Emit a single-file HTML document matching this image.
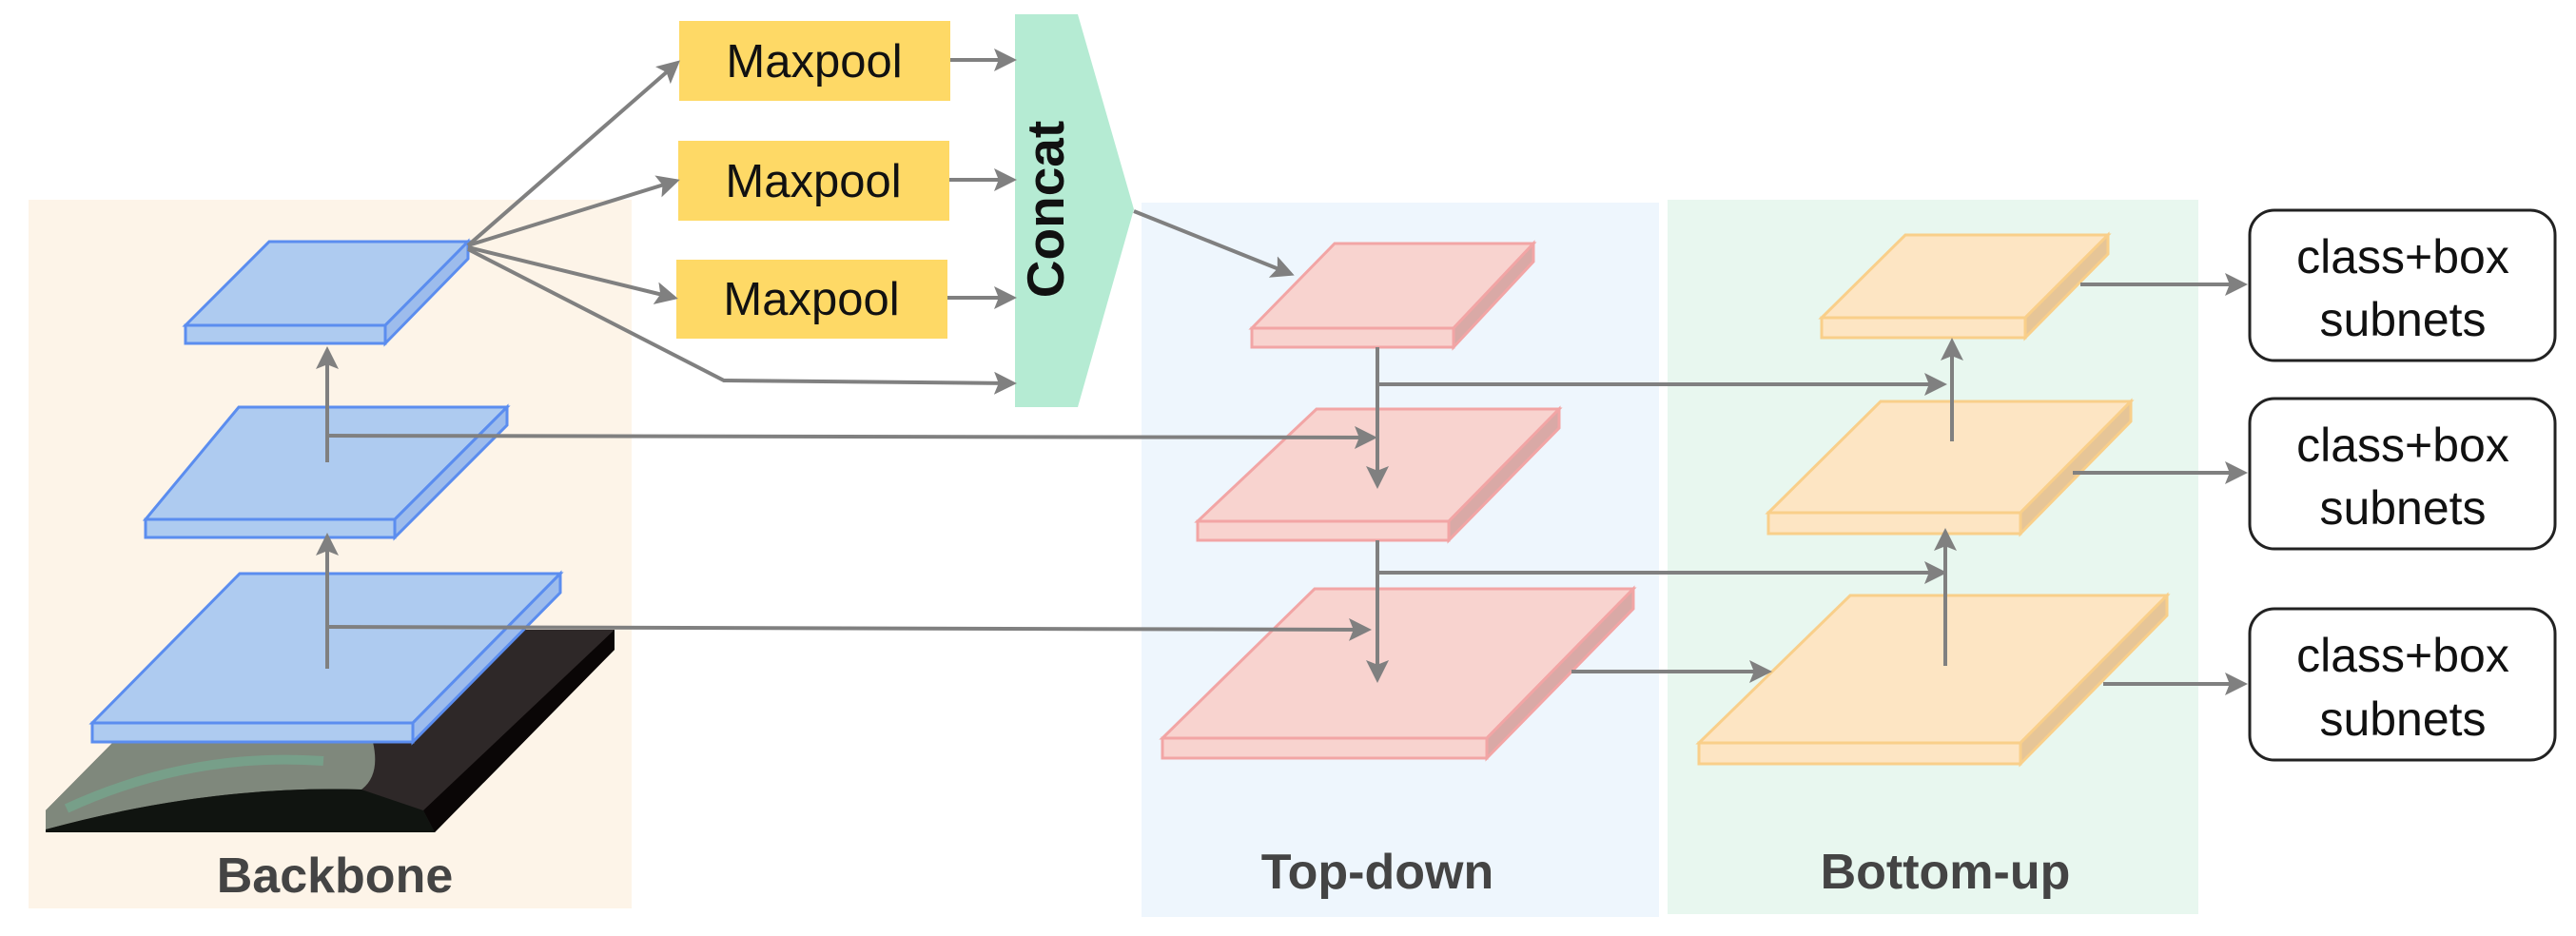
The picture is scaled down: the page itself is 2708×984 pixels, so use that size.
<!DOCTYPE html>
<html><head><meta charset="utf-8"><style>
html,body{margin:0;padding:0;background:#fff}
svg{display:block}
text{font-family:"Liberation Sans",Arial,sans-serif}
</style></head><body>
<svg width="2708" height="984" viewBox="0 0 2708 984" xmlns="http://www.w3.org/2000/svg">
<defs>
<marker id="ah" markerWidth="6" markerHeight="6" refX="5" refY="3" orient="auto" markerUnits="strokeWidth">
<path d="M0,0 L6,3 L0,6 L1.2,3 Z" fill="#808080"/></marker>
</defs>
<!-- backgrounds -->
<rect x="30" y="210" width="634" height="745" fill="#fdf4e8"/>
<rect x="1200" y="213" width="544" height="751" fill="#eef6fd"/>
<rect x="1753" y="210" width="558" height="751" fill="#e8f7ef"/>

<!-- satellite image -->
<polygon points="236,662 646,662 646,683 457,875 48,875 48,852" fill="#2e2828"/>
<polygon points="646,662 646,683 457,875 445,852" fill="#0a0606"/>
<path d="M48,852 L236,662 L430,662 Q380,720 392,780 Q400,815 380,830 Q220,825 48,872 Z" fill="#7f887c"/>
<path d="M70,850 Q200,790 340,800" stroke="#6fb596" stroke-width="10" fill="none" opacity="0.5"/>
<path d="M120,760 Q220,720 330,740" stroke="#6fb596" stroke-width="10" fill="none" opacity="0.4"/>
<path d="M48,872 Q220,825 380,830 L445,852 L457,875 L48,875 Z" fill="#101410"/>

<!-- blue layers -->
<g stroke="#5b8def" stroke-width="3" fill="#aecbf0">
<polygon points="252,603 589,603 434,760 97,760"/>
<rect x="97" y="760" width="337" height="20"/>
<polygon points="589,603 589,623 434,780 434,760" fill="#9dbcec"/>
<polygon points="251,428 533,428 415,546 153,546"/>
<rect x="153" y="546" width="262" height="19"/>
<polygon points="533,428 533,447 415,565 415,546" fill="#9dbcec"/>
<polygon points="283,254 492,254 405,342 195,342"/>
<rect x="195" y="342" width="210" height="19"/>
<polygon points="492,254 492,272 405,361 405,342" fill="#9dbcec"/>
</g>

<!-- pink layers -->
<g stroke="#f2a5a5" stroke-width="3" fill="#f8d3cf">
<polygon points="1403,256 1612,256 1528,345 1316,345"/>
<rect x="1316" y="345" width="212" height="20"/>
<polygon points="1612,256 1612,275 1528,365 1528,345" fill="#d9a9a6"/>
<polygon points="1384,430 1639,430 1523,548 1259,548"/>
<rect x="1259" y="548" width="264" height="20"/>
<polygon points="1639,430 1639,450 1523,568 1523,548" fill="#d9a9a6"/>
<polygon points="1382,619 1717,619 1563,776 1222,776"/>
<rect x="1222" y="776" width="341" height="21"/>
<polygon points="1717,619 1717,640 1563,797 1563,776" fill="#d9a9a6"/>
</g>

<!-- orange layers -->
<g stroke="#f9cf8a" stroke-width="3" fill="#fde5c3">
<polygon points="2003,247 2216,247 2129,334 1915,334"/>
<rect x="1915" y="334" width="214" height="21"/>
<polygon points="2216,247 2216,267 2129,355 2129,334" fill="#e6c597"/>
<polygon points="1977,422 2240,422 2124,539 1859,539"/>
<rect x="1859" y="539" width="265" height="22"/>
<polygon points="2240,422 2240,443 2124,561 2124,539" fill="#e6c597"/>
<polygon points="1945,626 2278,626 2124,781 1786,781"/>
<rect x="1786" y="781" width="338" height="22"/>
<polygon points="2278,626 2278,647 2124,803 2124,781" fill="#e6c597"/>
</g>

<!-- maxpool & concat -->
<g fill="#fed966">
<rect x="714" y="22" width="285" height="84"/>
<rect x="713" y="148" width="285" height="84"/>
<rect x="711" y="273" width="285" height="83"/>
</g>
<g font-size="49" text-anchor="middle" fill="#111">
<text x="856" y="81">Maxpool</text>
<text x="855" y="207">Maxpool</text>
<text x="853" y="331">Maxpool</text>
</g>
<polygon points="1067,15 1133,15 1192,220 1133,428 1067,428" fill="#b5ebd3"/>
<text transform="translate(1118,220) rotate(-90)" font-size="55" font-weight="bold" text-anchor="middle" fill="#111">Concat</text>

<!-- class boxes -->
<g fill="#fff" stroke="#222" stroke-width="3">
<rect x="2365" y="221" width="321" height="158" rx="26"/>
<rect x="2365" y="419" width="321" height="158" rx="26"/>
<rect x="2365" y="640" width="321" height="159" rx="26"/>
</g>
<g font-size="50" text-anchor="middle" fill="#111">
<text x="2526" y="287">class+box</text><text x="2526" y="353">subnets</text>
<text x="2526" y="485">class+box</text><text x="2526" y="551">subnets</text>
<text x="2526" y="706">class+box</text><text x="2526" y="773">subnets</text>
</g>

<!-- arrows -->
<g stroke="#808080" stroke-width="4" fill="none">
<line x1="492" y1="258" x2="712" y2="66" marker-end="url(#ah)"/>
<line x1="492" y1="258" x2="711" y2="190" marker-end="url(#ah)"/>
<line x1="492" y1="260" x2="709" y2="313" marker-end="url(#ah)"/>
<polyline points="492,262 761,400 1065,403" marker-end="url(#ah)"/>
<line x1="999" y1="63" x2="1065" y2="63" marker-end="url(#ah)"/>
<line x1="998" y1="189" x2="1065" y2="189" marker-end="url(#ah)"/>
<line x1="996" y1="313" x2="1065" y2="313" marker-end="url(#ah)"/>
<line x1="1192" y1="222" x2="1357" y2="288" marker-end="url(#ah)"/>
<line x1="344" y1="486" x2="344" y2="368" marker-end="url(#ah)"/>
<line x1="344" y1="703" x2="344" y2="564" marker-end="url(#ah)"/>
<polyline points="346,458 1444,460" marker-end="url(#ah)"/>
<polyline points="346,659 1438,662" marker-end="url(#ah)"/>
<line x1="1448" y1="365" x2="1448" y2="510" marker-end="url(#ah)"/>
<line x1="1448" y1="568" x2="1448" y2="714" marker-end="url(#ah)"/>
<line x1="1448" y1="404" x2="2043" y2="404" marker-end="url(#ah)"/>
<line x1="1448" y1="602" x2="2043" y2="602" marker-end="url(#ah)"/>
<line x1="2052" y1="464" x2="2052" y2="359" marker-end="url(#ah)"/>
<line x1="2045" y1="700" x2="2045" y2="559" marker-end="url(#ah)"/>
<line x1="1652" y1="706" x2="1859" y2="706" marker-end="url(#ah)"/>
<line x1="2187" y1="299" x2="2359" y2="299" marker-end="url(#ah)"/>
<line x1="2179" y1="497" x2="2359" y2="497" marker-end="url(#ah)"/>
<line x1="2211" y1="719" x2="2359" y2="719" marker-end="url(#ah)"/>
</g>

<g font-size="52" font-weight="bold" text-anchor="middle" fill="#444">
<text x="352" y="938">Backbone</text>
<text x="1448" y="934">Top-down</text>
<text x="2045" y="934">Bottom-up</text>
</g>
</svg>
</body></html>
